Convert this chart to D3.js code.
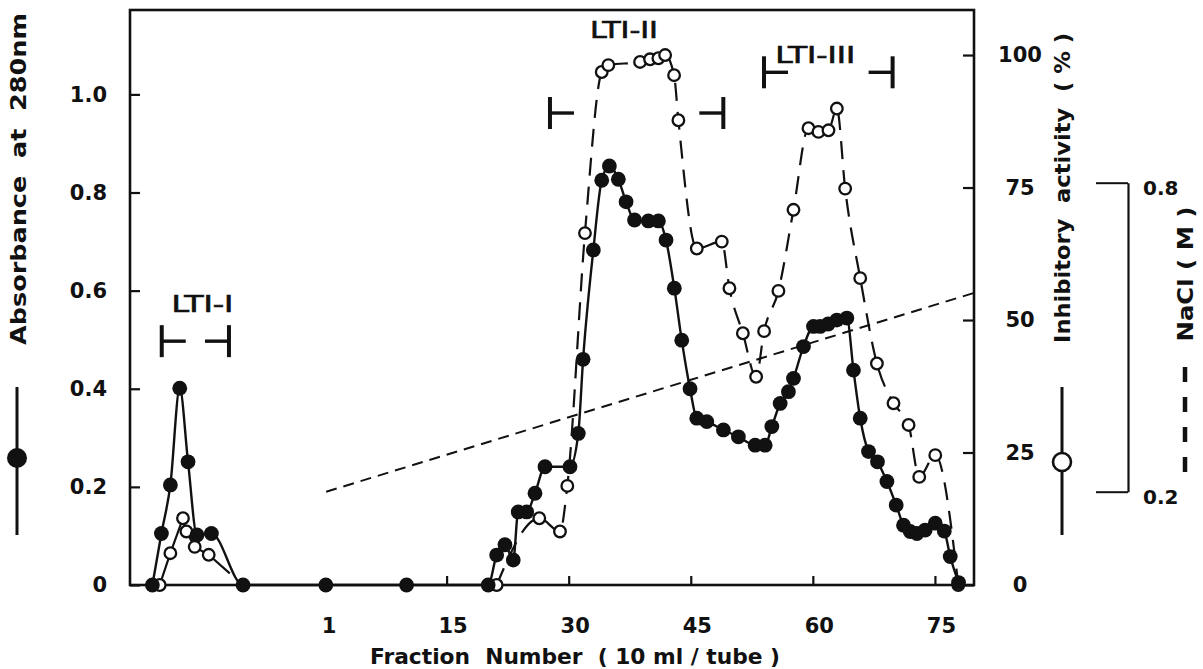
<!DOCTYPE html>
<html>
<head>
<meta charset="utf-8">
<script src="https://cdn.jsdelivr.net/npm/d3@7"></script>
<style>
    body { margin: 0; background: #fff; }
    svg { display: block; }
    text { font-family: "DejaVu Sans", sans-serif; font-weight: bold; fill: #111; }
    .pool text { font-family: "Liberation Sans Narrow", "DejaVu Sans Condensed", "Liberation Sans", sans-serif; font-weight: normal; }
</style>
</head>
<body>
<svg id="chart"></svg>
<script>
// absorbance at 280nm (filled circles)
const absFrac = [-21.15, -20.04, -18.94, -17.79, -16.77, -15.67, -13.90, -10.01, 0.16, 10.08,
    20.11, 21.15, 22.17, 23.19, 23.80, 24.84, 25.86, 27.09, 30.16, 31.18,
    31.77, 33.03, 34.06, 35.0, 36.1, 37.05, 38.09, 39.79, 41.02, 41.96,
    42.98, 43.89, 44.91, 45.74, 46.97, 49.01, 50.85, 52.91, 54.14, 54.96,
    55.98, 57.0, 57.62, 58.85, 60.08, 60.9, 61.88, 62.95, 64.18, 64.99,
    65.82, 66.84, 67.94, 69.1, 70.24, 71.14, 71.96, 72.79, 73.8, 75.04,
    76.15, 76.88, 77.9];
const absVal = [0, 0.105, 0.204, 0.401, 0.251, 0.102, 0.105, 0, 0, 0,
    0, 0.061, 0.082, 0.051, 0.149, 0.149, 0.187, 0.241, 0.241, 0.309,
    0.46, 0.683, 0.825, 0.854, 0.827, 0.781, 0.744, 0.742, 0.742, 0.703,
    0.605, 0.499, 0.40, 0.34, 0.333, 0.316, 0.302, 0.285, 0.285, 0.323,
    0.37, 0.394, 0.421, 0.486, 0.527, 0.527, 0.532, 0.54, 0.544, 0.438,
    0.34, 0.272, 0.251, 0.211, 0.163, 0.122, 0.109, 0.105, 0.112, 0.126,
    0.11, 0.058, 0.005];

// inhibitory activity (open circles), wash part (solid line, last point is line end only)
const inhWashFrac = [-20.25, -18.94, -17.39, -16.97, -15.95, -14.23, -11.64];
const inhWashVal = [0, 6.0, 12.6, 10.1, 7.2, 5.7, 2.2];

// inhibitory activity, gradient part (dashed line)
const inhFrac = [21.15, 26.39, 28.93, 29.83, 32.0, 34.06, 34.87, 38.77, 40.0, 41.02,
    41.85, 42.95, 43.48, 45.74, 48.81, 49.75, 51.4, 53.03, 54.01, 55.77,
    57.62, 59.46, 60.69, 61.92, 62.95, 63.97, 65.82, 67.87, 69.91, 71.76,
    73.07, 75.04, 77.87];
const inhVal = [0, 12.6, 10.1, 18.7, 66.4, 96.8, 98.1, 98.7, 99.2, 99.4,
    100, 96.2, 87.7, 63.5, 64.8, 56.0, 47.5, 39.3, 47.9, 55.5,
    70.8, 86.2, 85.5, 85.8, 89.9, 74.8, 57.9, 41.8, 34.3, 30.2,
    20.4, 24.5, 0];

// NaCl gradient
const naclFrac = [0.2, 79.8];
const naclVal = [0.2, 0.586];

// pooled fractions
const poolNames = ["LTI-I", "LTI-II", "LTI-III"];
const poolStart = [-20.0, 27.7, 54.0];
const poolEnd = [-11.74, 49.0, 69.8];
const poolLevel = [0.497, 0.962, 1.045];
const poolLabelFrac = [-15.0, 36.8, 60.3];
const poolLabelLevel = [0.556, 1.115, 1.064];

// ticks
const xTicks = [1, 15, 30, 45, 60, 75];
const absTicks = [0, 0.2, 0.4, 0.6, 0.8, 1.0];
const inhTicks = [0, 25, 50, 75, 100];
const naclTicks = [0.2, 0.8];

const W = 1203, H = 669;
const margin = {top: 10, right: 229, bottom: 84, left: 130},
    width = W - margin.left - margin.right,
    height = H - margin.top - margin.bottom;

const svg = d3.select("#chart")
    .attr("width", W)
    .attr("height", H);

const g = svg.append("g")
    .attr("transform", "translate(" + margin.left + "," + margin.top + ")");

const x = d3.scaleLinear().domain([-23.9, 79.8]).range([0, width]);
const yAbs = d3.scaleLinear().domain([0, 1.172]).range([height, 0]);
const yInh = d3.scaleLinear().domain([0, 108.5]).range([height, 0]);
const yNacl = d3.scaleLinear().domain([0.2, 0.8]).range([481.7, 172.7]);

//axes
const gx = g.append("g")
    .attr("transform", "translate(0," + height + ")")
    .call(d3.axisBottom(x).tickValues(xTicks).tickSizeInner(-9).tickSizeOuter(0).tickPadding(33));
gx.selectAll("text").attr("x", 6);
// first fraction: label only, no tick mark
const first = gx.selectAll(".tick").filter(function (d) { return d === 1; });
first.select("line").remove();
first.select("text").attr("x", -4);

const gyl = g.append("g")
    .call(d3.axisLeft(yAbs).tickValues(absTicks).tickSizeInner(-10).tickSizeOuter(0).tickPadding(23)
        .tickFormat(function (d) { return d === 0 ? "0" : d.toFixed(1); }));

const gyr = g.append("g")
    .attr("transform", "translate(" + width + ",0)")
    .call(d3.axisRight(yInh).tickValues(inhTicks).tickSizeInner(-11).tickSizeOuter(0).tickPadding(46));
gyr.selectAll("text").attr("text-anchor", "middle");

[gx, gyl, gyr].forEach(function (a) {
    a.select(".domain").remove();
    a.selectAll("line").attr("stroke", "#111").attr("stroke-width", 2.2);
    a.selectAll("text").attr("font-size", 21).attr("fill", "#111")
        .attr("font-family", "DejaVu Sans, sans-serif").attr("font-weight", "bold");
});

// NaCl bracket axis
const gn = g.append("g")
    .attr("transform", "translate(998,0)")
    .call(d3.axisRight(yNacl).tickValues(naclTicks).tickSizeInner(-32).tickSizeOuter(0).tickPadding(15)
        .tickFormat(d3.format(".1f")));
gn.select(".domain").attr("stroke", "#111").attr("stroke-width", 2.2);
gn.selectAll("line").attr("stroke", "#111").attr("stroke-width", 2);
gn.selectAll("text").attr("font-size", 20).attr("fill", "#111")
    .attr("font-family", "DejaVu Sans, sans-serif").attr("font-weight", "bold").attr("dy", "0.6em");

// frame
g.append("rect")
    .attr("x", 0).attr("y", 0)
    .attr("width", width).attr("height", height)
    .attr("fill", "none").attr("stroke", "#111").attr("stroke-width", 2.6);

// NaCl gradient line
const nacl = naclFrac.map(function (f, i) { return [x(f), yNacl(naclVal[i])]; });
g.append("path")
    .attr("d", d3.line()(nacl))
    .attr("fill", "none").attr("stroke", "#111").attr("stroke-width", 2)
    .attr("stroke-dasharray", "11,7");

// inhibitory lines
const inhWash = inhWashFrac.map(function (f, i) { return [x(f), yInh(inhWashVal[i])]; });
const inh = inhFrac.map(function (f, i) { return [x(f), yInh(inhVal[i])]; });
const smooth = d3.line().curve(d3.curveMonotoneX);

g.append("path")
    .attr("d", d3.line()(inhWash))
    .attr("fill", "none").attr("stroke", "#111").attr("stroke-width", 2.2);

g.append("path")
    .attr("d", smooth(inh))
    .attr("fill", "none").attr("stroke", "#111").attr("stroke-width", 2.2)
    .attr("stroke-dasharray", "18,11");

// absorbance line
const abs = absFrac.map(function (f, i) { return [x(f), yAbs(absVal[i])]; });
g.append("path")
    .attr("d", smooth(abs))
    .attr("fill", "none").attr("stroke", "#111").attr("stroke-width", 2.4);

// open circles
g.selectAll(".open")
    .data(inhWash.slice(0, -1).concat(inh))
    .enter().append("circle")
    .attr("class", "open")
    .attr("cx", function (d) { return d[0]; })
    .attr("cy", function (d) { return d[1]; })
    .attr("r", 5.8)
    .attr("fill", "#fff").attr("stroke", "#111").attr("stroke-width", 2.3);

// filled circles
g.selectAll(".filled")
    .data(abs)
    .enter().append("circle")
    .attr("class", "filled")
    .attr("cx", function (d) { return d[0]; })
    .attr("cy", function (d) { return d[1]; })
    .attr("r", 7.4)
    .attr("fill", "#111");

// pooled fraction brackets
const pool = g.append("g").attr("class", "pool");
poolNames.forEach(function (name, i) {
    const xs = x(poolStart[i]), xe = x(poolEnd[i]), yy = yAbs(poolLevel[i]);
    const b = pool.append("g").attr("stroke", "#111");
    b.append("line").attr("x1", xs).attr("x2", xs).attr("y1", yy - 16).attr("y2", yy + 16).attr("stroke-width", 4);
    b.append("line").attr("x1", xs).attr("x2", xs + 24).attr("y1", yy).attr("y2", yy).attr("stroke-width", 3.4);
    b.append("line").attr("x1", xe).attr("x2", xe).attr("y1", yy - 16).attr("y2", yy + 16).attr("stroke-width", 4);
    b.append("line").attr("x1", xe - 24).attr("x2", xe).attr("y1", yy).attr("y2", yy).attr("stroke-width", 3.4);
    pool.append("text")
        .attr("x", x(poolLabelFrac[i]))
        .attr("y", yAbs(poolLabelLevel[i]))
        .attr("text-anchor", "middle")
        .attr("font-size", 23)
        .attr("stroke", "#111").attr("stroke-width", 0.6)
        .attr("textLength", [62, 68, 80][i])
        .attr("lengthAdjust", "spacingAndGlyphs")
        .text(name);
});

// axis titles
svg.append("text")
    .attr("x", 575).attr("y", 664)
    .attr("text-anchor", "middle")
    .attr("font-size", 21)
    .attr("textLength", 410).attr("lengthAdjust", "spacingAndGlyphs")
    .style("white-space", "pre")
    .text("Fraction  Number  ( 10 ml / tube )");

svg.append("text")
    .attr("transform", "translate(26,179) rotate(-90)")
    .attr("text-anchor", "middle")
    .attr("font-size", 22)
    .attr("textLength", 332).attr("lengthAdjust", "spacingAndGlyphs")
    .style("white-space", "pre")
    .text("Absorbance  at  280nm");

svg.append("text")
    .attr("transform", "translate(1070,188) rotate(-90)")
    .attr("text-anchor", "middle")
    .attr("font-size", 21)
    .attr("textLength", 310).attr("lengthAdjust", "spacingAndGlyphs")
    .style("white-space", "pre")
    .text("Inhibitory  activity  ( % )");

svg.append("text")
    .attr("transform", "translate(1193,274) rotate(-90)")
    .attr("text-anchor", "middle")
    .attr("font-size", 21)
    .attr("textLength", 135).attr("lengthAdjust", "spacingAndGlyphs")
    .style("white-space", "pre")
    .text("NaCl ( M )");

// legend keys
svg.append("line")
    .attr("x1", 17).attr("x2", 17).attr("y1", 387).attr("y2", 535)
    .attr("stroke", "#111").attr("stroke-width", 3);
svg.append("circle")
    .attr("cx", 17).attr("cy", 458).attr("r", 10).attr("fill", "#111");

svg.append("line")
    .attr("x1", 1062).attr("x2", 1062).attr("y1", 387).attr("y2", 535)
    .attr("stroke", "#111").attr("stroke-width", 3);
svg.append("circle")
    .attr("cx", 1062).attr("cy", 462).attr("r", 9)
    .attr("fill", "#fff").attr("stroke", "#111").attr("stroke-width", 2.6);

svg.append("line")
    .attr("x1", 1185).attr("x2", 1185).attr("y1", 367).attr("y2", 472)
    .attr("stroke", "#111").attr("stroke-width", 4.5)
    .attr("stroke-dasharray", "15,15");
</script>
</body>
</html>
